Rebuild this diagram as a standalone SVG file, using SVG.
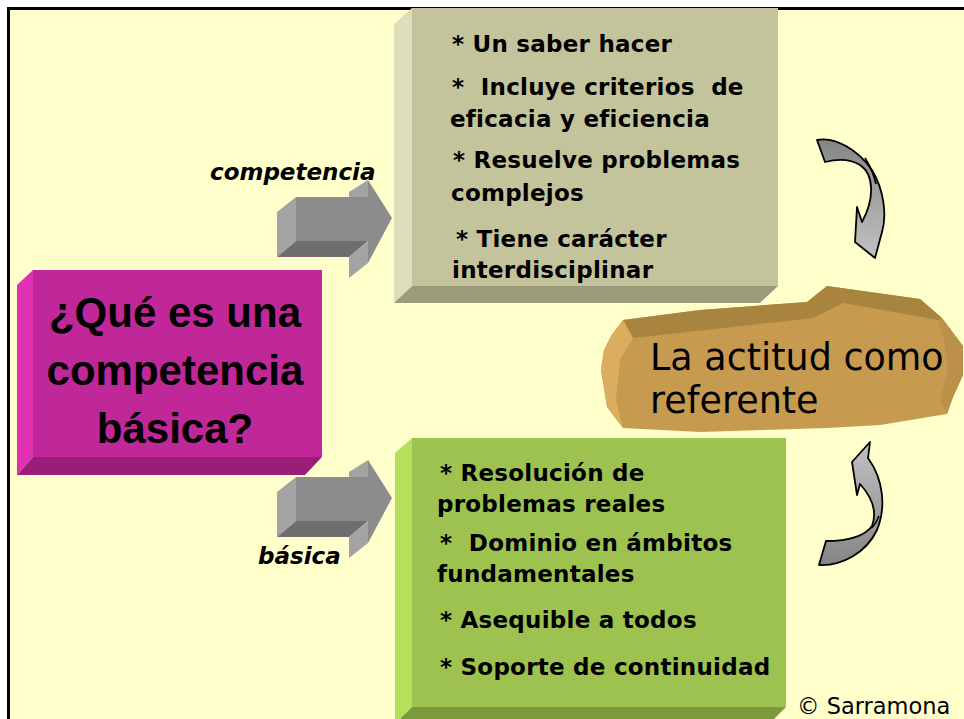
<svg xmlns="http://www.w3.org/2000/svg" width="964" height="719" viewBox="0 0 964 719">
<style>
.bx{font-family:"DejaVu Sans","Verdana",sans-serif;font-weight:bold;font-size:23px;letter-spacing:0.25px;fill:#000}
.lbl{font-family:"DejaVu Sans","Verdana",sans-serif;font-weight:bold;font-style:italic;font-size:23px;fill:#000}
.q{font-family:"Liberation Sans","Arial",sans-serif;font-weight:bold;font-size:42px;fill:#000}
.rk{font-family:"DejaVu Sans","Tahoma",sans-serif;font-size:36.5px;fill:#000}
.cp{font-family:"DejaVu Sans","Tahoma",sans-serif;font-size:22.5px;fill:#000}
.curv{stroke:#000;stroke-width:1.8;stroke-linejoin:round}
</style>
<defs>
<linearGradient id="gcurv" x1="0" y1="0" x2="0" y2="1">
<stop offset="0" stop-color="#858585"/>
<stop offset="1" stop-color="#C2C2C2"/>
</linearGradient>
<linearGradient id="gcurv2" x1="0" y1="1" x2="0" y2="0">
<stop offset="0" stop-color="#858585"/>
<stop offset="1" stop-color="#C2C2C2"/>
</linearGradient>
<g id="arrow3d">
<polygon points="277,212 296,197 296,241 277,257" fill="#A3A3A3"/>
<polygon points="277,257 296,241 368,241 349,257" fill="#6E6E6E"/>
<polygon points="349,257 368,241 368,263 349,278" fill="#A3A3A3"/>
<polygon points="349,192 368,180 368,197 349,197" fill="#A3A3A3"/>
<polygon points="296,197 368,197 368,180 392,218 368,263 368,241 296,241" fill="#8C8C8C"/>
</g>
</defs>
<rect x="0" y="0" width="964" height="719" fill="#FFFFFF"/>
<rect id="frame" x="8.5" y="8.5" width="1000" height="1000" fill="#FFFFCC" stroke="#000" stroke-width="3"/>

<g id="node-competencia">
<polygon points="394,24 412,8 412,286 394,303" fill="#DEDEBA"/>
<polygon points="394,303 412,286 778,286 760,303" fill="#9C9C7A"/>
<rect x="412" y="8" width="366" height="278" fill="#C4C49C"/>
<text class="bx" x="452" y="52">* Un saber hacer</text>
<text class="bx" x="452" y="95" xml:space="preserve">*  Incluye criterios  de</text>
<text class="bx" x="450" y="127">eficacia y eficiencia</text>
<text class="bx" x="453" y="168">* Resuelve problemas</text>
<text class="bx" x="451" y="201">complejos</text>
<text class="bx" x="456" y="247">* Tiene carácter</text>
<text class="bx" x="452" y="278">interdisciplinar</text>
</g>

<g id="node-question">
<polygon points="17,285 33,270 33,457 17,475" fill="#E030B4"/>
<polygon points="17,475 33,457 322,457 305,475" fill="#9A1E78"/>
<rect x="33" y="270" width="289" height="187" fill="#C0289A"/>
<text class="q" x="175" y="327" text-anchor="middle">¿Qué es una</text>
<text class="q" x="175" y="385" text-anchor="middle">competencia</text>
<text class="q" x="175" y="443" text-anchor="middle">básica?</text>
</g>

<g id="node-basica">
<polygon points="395,453 412,438 412,707 395,724" fill="#B4E05C"/>
<polygon points="395,724 412,707 786,707 769,724" fill="#7B9A3C"/>
<rect x="412" y="438" width="374" height="269" fill="#9DC24F"/>
<text class="bx" x="440" y="481">* Resolución de</text>
<text class="bx" x="437" y="512">problemas reales</text>
<text class="bx" x="440" y="551" xml:space="preserve">*  Dominio en ámbitos</text>
<text class="bx" x="437" y="582">fundamentales</text>
<text class="bx" x="440" y="628">* Asequible a todos</text>
<text class="bx" x="440" y="675">* Soporte de continuidad</text>
</g>

<g id="node-actitud">
<path d="M623,320 L700,310 L807,302 L827,286 L920,299 L942,318 L963,346 L963,375 L953,397 L947,414 L880,425 L827,428 L700,432 L623,428 L607,407 L601,370 L604,350 L611,336 Z" fill="#C69B4F"/>
<path d="M623,320 L700,310 L807,302 L827,286 L920,299 L942,318 L938,320 L843,303 L813,318 L633,338 Z" fill="#A8843F"/>
<path d="M942,318 L963,346 L963,375 L953,397 L947,414 L940,400 L948,370 L944,340 L938,320 Z" fill="#BB9048"/>
<path d="M623,320 L633,338 L620,360 L616,400 L623,428 L607,407 L601,370 L604,350 L611,336 Z" fill="#DAAE5E"/>
<text class="rk" x="650" y="370">La actitud como</text>
<text class="rk" x="650" y="413">referente</text>
</g>

<g id="connectors">
<use href="#arrow3d"/>
<use href="#arrow3d" transform="translate(0,280)"/>
<text class="lbl" x="210" y="180">competencia</text>
<text class="lbl" x="258" y="564">básica</text>
<path class="curv" fill="url(#gcurv)" d="M817,140 C835,136 858,150 872,170 C884,190 887,215 882,232 L875,258 L855,242 L857,207 L862,222 C874,200 875,175 860,165 C850,159 837,159 825,162 Z"/>
<path class="curv" fill="none" d="M865,158 C870,166 874,174 876,184"/>
<path class="curv" fill="url(#gcurv2)" d="M870,442 L852,462 L857,495 L860,484 C870,495 878,510 872,526 C864,537 845,541 826,541 L819,565 C842,566 866,553 877,530 C886,508 884,480 868,458 Z"/>
<path class="curv" fill="none" d="M879,516 C877,521 875,525 871,528"/>
</g>

<text class="cp" x="797" y="714">© Sarramona</text>
</svg>
